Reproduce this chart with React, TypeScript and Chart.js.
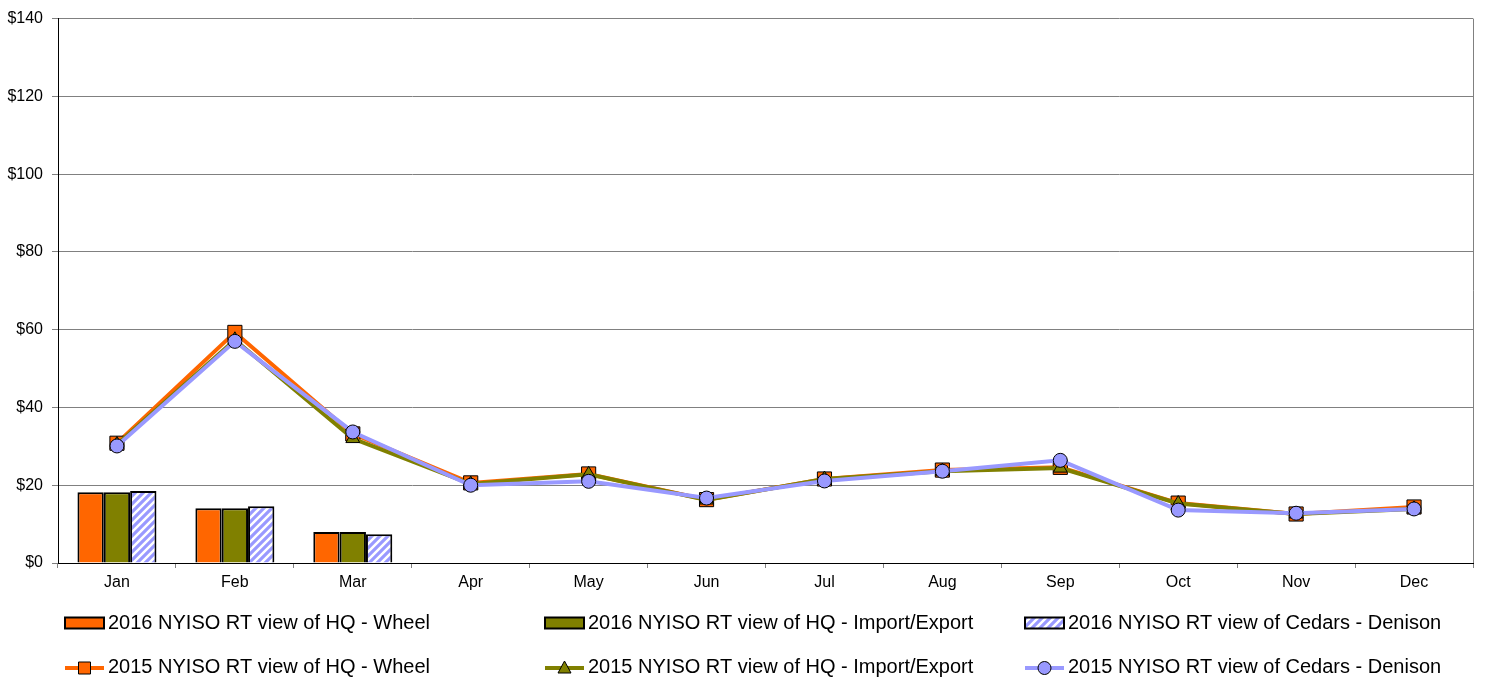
import React, { useEffect, useRef } from "react";
import { Chart, registerables } from "chart.js";

Chart.register(...registerables);

const months = ["Jan", "Feb", "Mar", "Apr", "May", "Jun", "Jul", "Aug", "Sep", "Oct", "Nov", "Dec"];

const wheel2016 = [18.2, 14.1, 8.0];
const importExport2016 = [18.2, 14.1, 8.0];
const cedars2016 = [18.5, 14.6, 7.4];

const wheel2015 = [30.8, 59.3, 33.2, 20.6, 22.9, 16.3, 21.6, 23.9, 24.6, 15.4, 12.6, 14.4];
const importExport2015 = [30.5, 57.4, 32.0, 20.3, 22.8, 16.2, 21.6, 23.6, 24.4, 15.3, 12.6, 13.9];
const cedars2015 = [30.1, 57.0, 33.7, 20.0, 21.0, 16.7, 21.1, 23.6, 26.4, 13.6, 12.8, 13.9];

const yTicks = [0, 20, 40, 60, 80, 100, 120, 140];

const labels = [
  "2016 NYISO RT view of HQ - Wheel",
  "2016 NYISO RT view of HQ - Import/Export",
  "2016 NYISO RT view of Cedars - Denison",
  "2015 NYISO RT view of HQ - Wheel",
  "2015 NYISO RT view of HQ - Import/Export",
  "2015 NYISO RT view of Cedars - Denison",
];

const ORANGE = "#FF6600";
const OLIVE = "#808000";
const LAVENDER = "#9999FF";
const FONT = 'Arial, "Liberation Sans", sans-serif';

function makeHatch(): CanvasPattern | string {
  const c = document.createElement("canvas");
  c.width = 8;
  c.height = 8;
  const ctx = c.getContext("2d");
  if (!ctx) return LAVENDER;
  ctx.fillStyle = LAVENDER;
  ctx.fillRect(0, 0, 8, 8);
  ctx.strokeStyle = "#FFFFFF";
  ctx.lineWidth = 2.5;
  ctx.beginPath();
  ctx.moveTo(-2, 10);
  ctx.lineTo(10, -2);
  ctx.moveTo(-6, 6);
  ctx.lineTo(6, -6);
  ctx.moveTo(2, 14);
  ctx.lineTo(14, 2);
  ctx.stroke();
  return ctx.createPattern(c, "repeat") || LAVENDER;
}

export default function App() {
  const ref = useRef<HTMLCanvasElement | null>(null);

  useEffect(() => {
    document.body.style.margin = "0";
    const canvas = ref.current;
    if (!canvas) return;
    const hatch = makeHatch();

    const framePlugin = {
      id: "rightFrame",
      beforeDatasetsDraw(chart: any) {
        const { ctx, chartArea } = chart;
        ctx.save();
        ctx.strokeStyle = "#808080";
        ctx.lineWidth = 1;
        ctx.beginPath();
        const x = Math.round(chartArea.right) + 0.5;
        ctx.moveTo(x, chartArea.top);
        ctx.lineTo(x, chartArea.bottom);
        ctx.stroke();
        ctx.restore();
      },
    };

    const legendPlugin = {
      id: "customLegend",
      afterDraw(chart: any) {
        const ctx = chart.ctx as CanvasRenderingContext2D;
        const cols = [65, 545, 1025];
        const rows = [623, 668];
        ctx.save();
        ctx.font = `20px ${FONT}`;
        ctx.textBaseline = "middle";
        ctx.textAlign = "left";
        const barFills: (string | CanvasPattern)[] = [ORANGE, OLIVE, hatch];
        const lineCols = [ORANGE, OLIVE, LAVENDER];
        for (let i = 0; i < 3; i++) {
          const x = cols[i];
          const y = rows[0];
          ctx.fillStyle = barFills[i] as any;
          ctx.fillRect(x, y - 5.5, 39, 11);
          ctx.strokeStyle = "#000";
          ctx.lineWidth = 2;
          ctx.strokeRect(x, y - 5.5, 39, 11);
          ctx.fillStyle = "#000";
          ctx.fillText(labels[i], x + 43, y);
        }
        for (let i = 0; i < 3; i++) {
          const x = cols[i];
          const y = rows[1];
          ctx.strokeStyle = lineCols[i];
          ctx.lineWidth = 4;
          ctx.beginPath();
          ctx.moveTo(x, y);
          ctx.lineTo(x + 39, y);
          ctx.stroke();
          const cx = x + 19.5;
          ctx.fillStyle = lineCols[i];
          ctx.strokeStyle = "#000";
          ctx.lineWidth = 1;
          ctx.beginPath();
          if (i === 0) {
            ctx.rect(cx - 6, y - 6, 12, 12);
          } else if (i === 1) {
            ctx.moveTo(cx, y - 7);
            ctx.lineTo(cx + 6.5, y + 5);
            ctx.lineTo(cx - 6.5, y + 5);
            ctx.closePath();
          } else {
            ctx.arc(cx, y, 6.5, 0, Math.PI * 2);
          }
          ctx.fill();
          ctx.stroke();
          ctx.fillStyle = "#000";
          ctx.fillText(labels[i + 3], x + 43, y - 1);
        }
        ctx.restore();
      },
    };

    const lineCommon = {
      borderWidth: 4,
      pointBorderColor: "#000",
      pointBorderWidth: 1,
      tension: 0,
      fill: false,
    };

    const chart = new Chart(canvas, {
      type: "bar",
      data: {
        labels: months,
        datasets: [
          {
            type: "line",
            label: labels[5],
            data: cedars2015,
            borderColor: LAVENDER,
            backgroundColor: LAVENDER,
            pointBackgroundColor: LAVENDER,
            pointStyle: "circle",
            pointRadius: 7,
            order: 1,
            ...lineCommon,
          } as any,
          {
            type: "line",
            label: labels[4],
            data: importExport2015,
            borderColor: OLIVE,
            backgroundColor: OLIVE,
            pointBackgroundColor: OLIVE,
            pointStyle: "triangle",
            pointRadius: 8,
            order: 2,
            ...lineCommon,
          } as any,
          {
            type: "line",
            label: labels[3],
            data: wheel2015,
            borderColor: ORANGE,
            backgroundColor: ORANGE,
            pointBackgroundColor: ORANGE,
            pointStyle: "rect",
            pointRadius: 10,
            order: 3,
            ...lineCommon,
          } as any,
          {
            type: "bar",
            label: labels[0],
            data: wheel2016,
            backgroundColor: ORANGE,
            borderColor: "#000",
            borderWidth: 2,
            order: 4,
          },
          {
            type: "bar",
            label: labels[1],
            data: importExport2016,
            backgroundColor: OLIVE,
            borderColor: "#000",
            borderWidth: 2,
            order: 5,
          },
          {
            type: "bar",
            label: labels[2],
            data: cedars2016,
            backgroundColor: hatch as any,
            borderColor: "#000",
            borderWidth: 2,
            order: 6,
          },
        ],
      },
      options: {
        animation: false,
        responsive: false,
        maintainAspectRatio: false,
        devicePixelRatio: 1,
        datasets: {
          bar: { categoryPercentage: 0.67, barPercentage: 1.0 },
        },
        layout: { padding: { left: 0, right: 12, top: 18, bottom: 88 } },
        plugins: {
          legend: { display: false },
          tooltip: { enabled: false },
          title: { display: false },
        },
        scales: {
          x: {
            offset: true,
            grid: {
              offset: true,
              display: true,
              drawOnChartArea: false,
              drawTicks: true,
              tickLength: 5,
              color: "#808080",
            },
            border: { display: true, color: "#000", width: 1 },
            ticks: {
              font: { family: FONT, size: 16 },
              color: "#000",
              padding: 5,
              maxRotation: 0,
              autoSkip: false,
            },
            afterFit(scale: any) {
              scale.height = 30;
            },
          },
          y: {
            min: 0,
            max: 140,
            afterBuildTicks(scale: any) {
              scale.ticks = yTicks.map((v) => ({ value: v }));
            },
            grid: {
              color: "#808080",
              lineWidth: 1,
              tickLength: 6,
              drawTicks: true,
            },
            border: { display: true, color: "#000", width: 1 },
            ticks: {
              font: { family: FONT, size: 16 },
              color: "#000",
              padding: 9,
              callback: (v: any) => "$" + v,
            },
            afterFit(scale: any) {
              scale.width = 58;
            },
          },
        },
      },
      plugins: [framePlugin, legendPlugin],
    });

    return () => {
      chart.destroy();
    };
  }, []);

  return (
    <div style={{ width: 1485, height: 681, background: "#fff" }}>
      <canvas ref={ref} width={1485} height={681} style={{ width: 1485, height: 681, display: "block" }} />
    </div>
  );
}
